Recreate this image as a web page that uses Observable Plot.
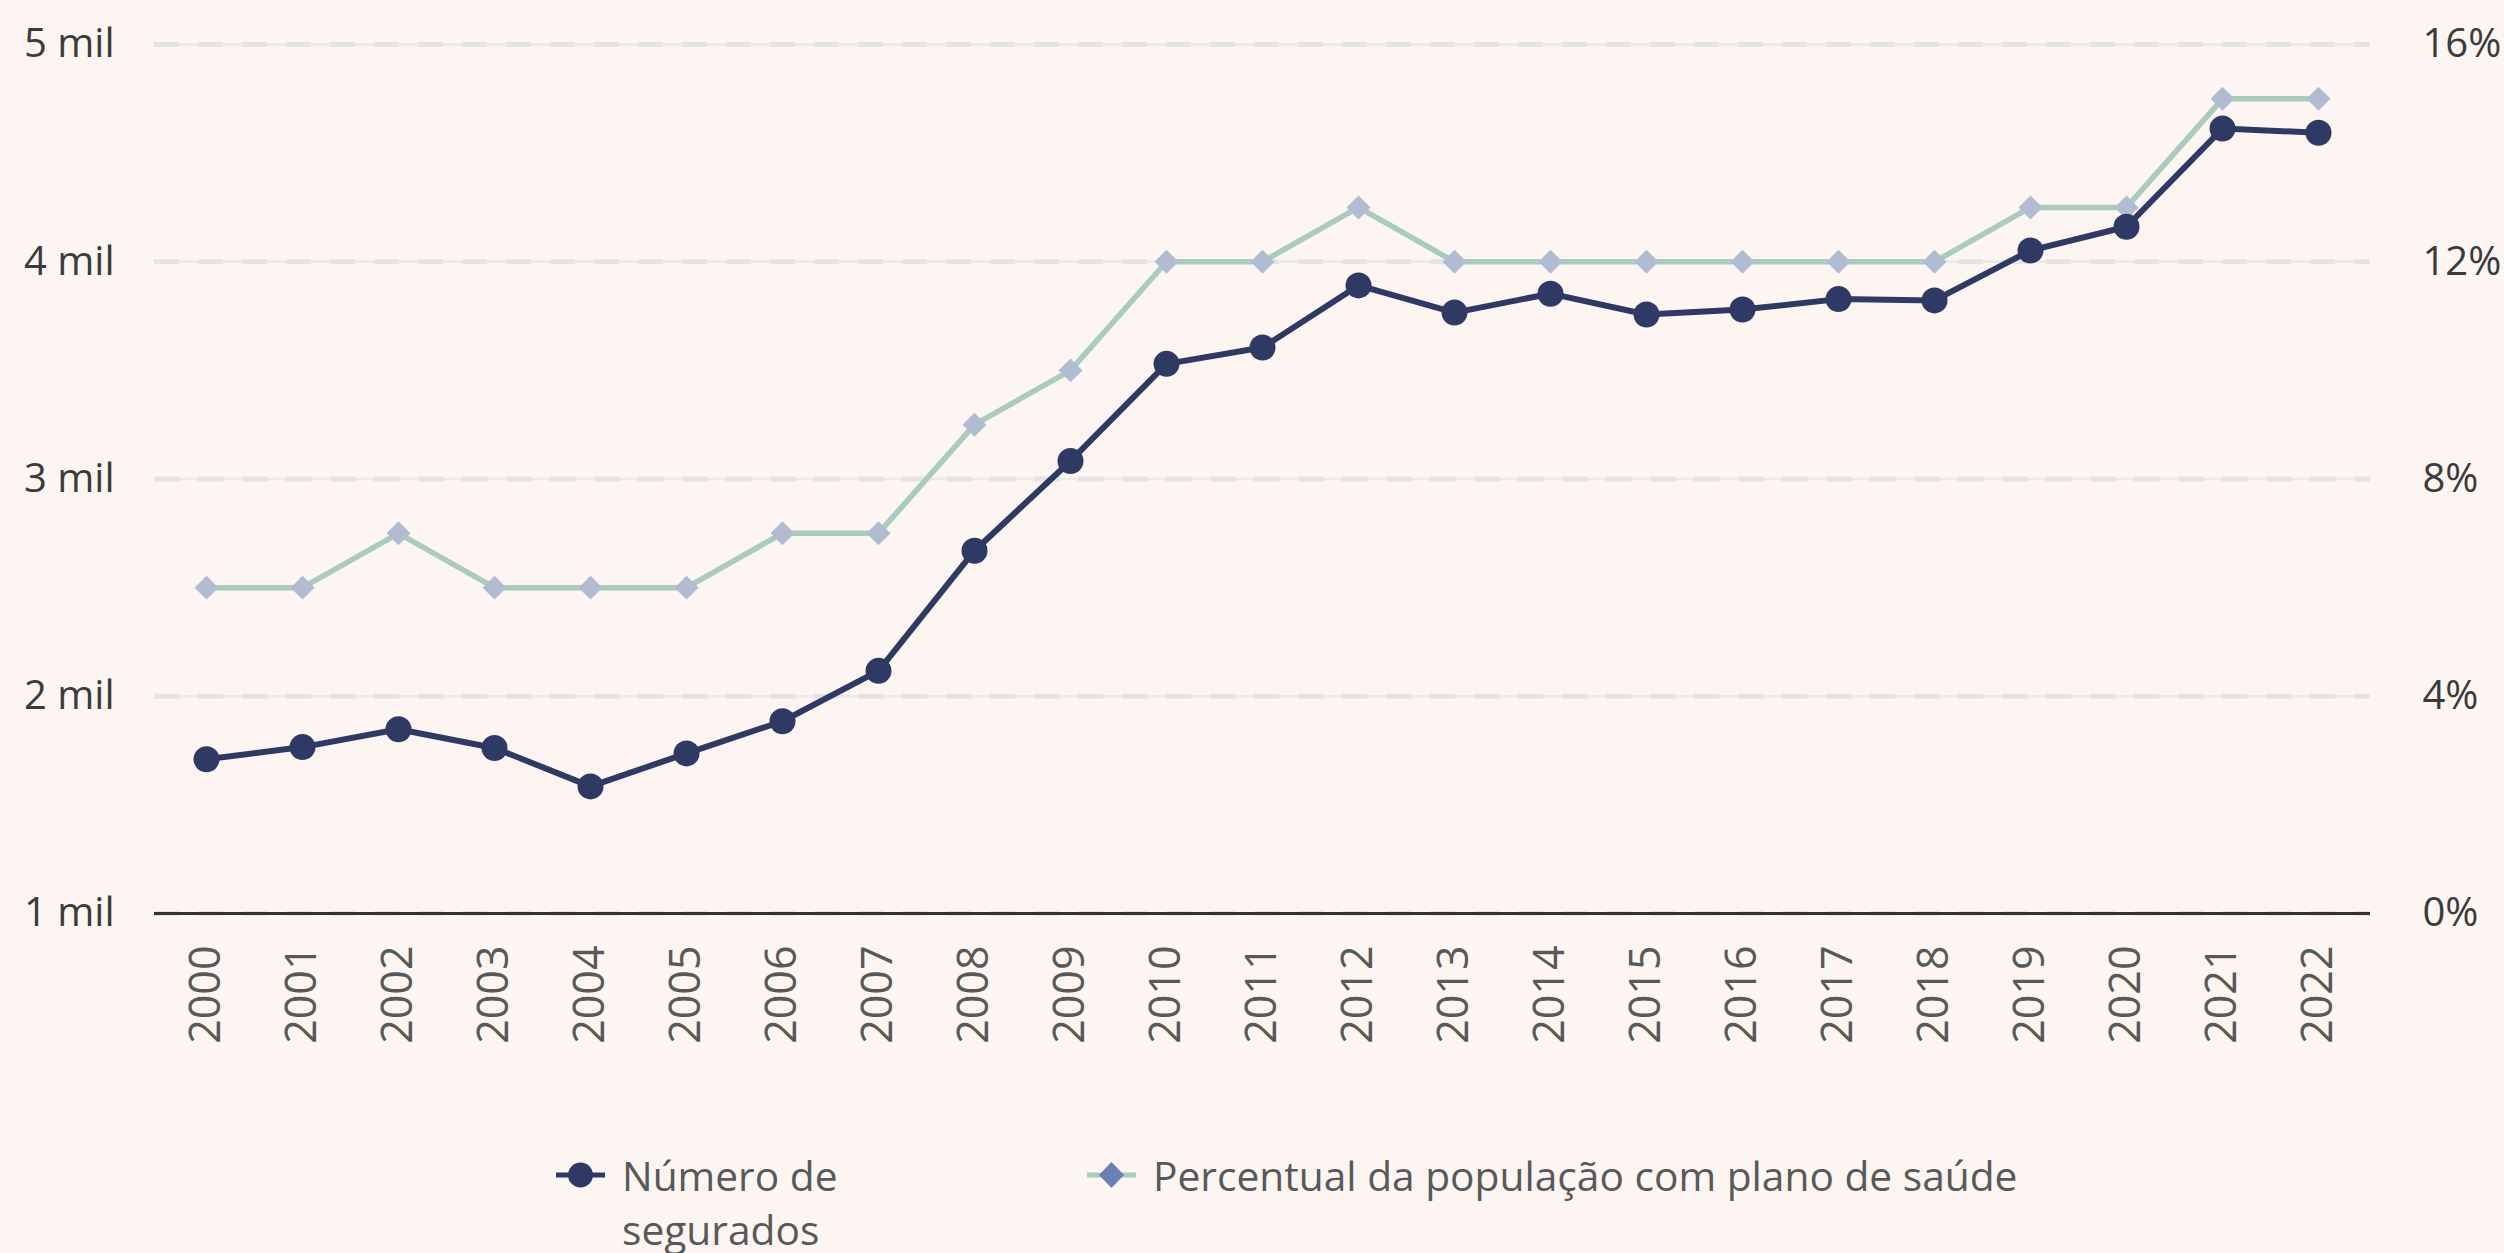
<!DOCTYPE html>
<html>
<head>
<meta charset="utf-8">
<script src="https://cdn.jsdelivr.net/npm/d3@7"></script>
<script src="https://cdn.jsdelivr.net/npm/@observablehq/plot@0.6"></script>
<style>
  html, body { margin: 0; padding: 0; background: #fcf5f2; }
  body { width: 2504px; height: 1253px; overflow: hidden; font-family: "Open Sans", sans-serif; }
  #chart svg { display: block; }
  .legend { display: flex; margin-left: 556px; padding-top: 30px; color: #595959; font-size: 40.7px; line-height: 54px; }
  .item { display: flex; align-items: flex-start; }
  .item svg { flex: none; margin-top: 9px; margin-right: 17px; }
  .item1 { width: 531px; }
  .item1 .txt { width: 240px; }
</style>
</head>
<body>
<div id="chart"></div>
<div class="legend">
  <div class="item item1">
    <svg width="49" height="36" viewBox="0 0 49 36"><line x1="0" y1="18" x2="49" y2="18" stroke="#2e3a64" stroke-width="5"/><circle cx="24.5" cy="18" r="12.5" fill="#2e3a64"/></svg>
    <div class="txt">Número de segurados</div>
  </div>
  <div class="item item2">
    <svg width="49" height="36" viewBox="0 0 49 36"><line x1="0" y1="18" x2="49" y2="18" stroke="#a9ccbc" stroke-width="5"/><path d="M24.5,5 L37,18 L24.5,31 L12,18 Z" fill="#6a7fb5"/></svg>
    <div class="txt">Percentual da população com plano de saúde</div>
  </div>
</div>
<script>
const years = [2000,2001,2002,2003,2004,2005,2006,2007,2008,2009,2010,2011,2012,2013,2014,2015,2016,2017,2018,2019,2020,2021,2022];
const segurados = [1710,1766,1848,1762,1585,1737,1885,2117,2670,3083,3530,3605,3891,3766,3853,3757,3780,3828,3822,4052,4161,4613,4594];
const percentual = [6,6,7,6,6,6,7,7,9,10,12,12,13,12,12,12,12,12,12,13,13,15,15];
const leftTicks = [1000,2000,3000,4000,5000];
const pctTicks = [0,4,8,12,16];

// right axis maps 0–16% onto the 1–5 mil range of the left axis
const pctToLeft = p => 1000 + p * 250;
const leftToPct = v => (v - 1000) / 250;

const segData = years.map((y, i) => ({year: y, value: segurados[i]}));
const pctData = years.map((y, i) => ({year: y, value: pctToLeft(percentual[i])}));

const chart = Plot.plot({
  width: 2504,
  height: 1118,
  marginLeft: 154,
  marginRight: 134,
  marginTop: 44,
  marginBottom: 205,
  style: {background: "transparent", fontFamily: "Open Sans, sans-serif"},
  x: {type: "point", domain: years, padding: 0.5},
  y: {domain: [1000, 5000]},
  marks: [
    Plot.ruleY(leftTicks, {stroke: "#ebe9e8", strokeWidth: 2.5}),
    Plot.ruleY(leftTicks, {stroke: "#e4e4e4", strokeWidth: 5, strokeDasharray: "25,19"}),
    Plot.ruleY([1000], {stroke: "#333333", strokeWidth: 3}),
    Plot.axisY(leftTicks, {anchor: "left", tickSize: 0, tickPadding: 40, fontSize: 40, fill: "#3b3b3b", tickFormat: d => `${d / 1000} mil`, label: null}),
    Plot.axisY(pctTicks.map(pctToLeft), {anchor: "right", tickSize: 0, tickPadding: 52, fontSize: 40, fill: "#3b3b3b", tickFormat: d => `${leftToPct(d)}%`, label: null}),
    Plot.axisX(years, {anchor: "bottom", tickSize: 0, tickPadding: 32, tickRotate: -90, fontSize: 43, fill: "#595959", tickFormat: d => String(d), label: null}),
    Plot.line(pctData, {x: "year", y: "value", stroke: "#a9ccbc", strokeWidth: 5.5}),
    Plot.dot(pctData, {x: "year", y: "value", symbol: "diamond2", r: 10.8, fill: "#b1bcd3", stroke: "none"}),
    Plot.line(segData, {x: "year", y: "value", stroke: "#2e3a64", strokeWidth: 6}),
    Plot.dot(segData, {x: "year", y: "value", r: 13, fill: "#2e3a64", stroke: "none"})
  ]
});
document.getElementById("chart").appendChild(chart);
</script>
</body>
</html>
